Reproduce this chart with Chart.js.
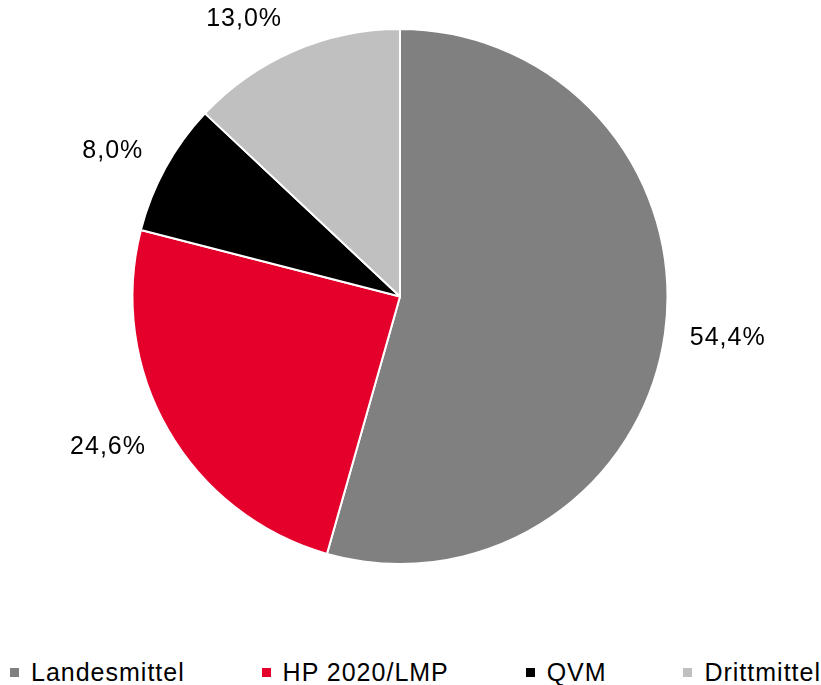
<!DOCTYPE html>
<html>
<head>
<meta charset="utf-8">
<script src="https://cdn.jsdelivr.net/npm/chart.js@4.4.1/dist/chart.umd.min.js"></script>
<style>
    body { margin: 0; background: #fff; width: 821px; height: 685px; overflow: hidden; position: relative; }
    #legend {
        position: absolute; left: 10px; right: 0; top: 658px;
        display: flex; justify-content: space-between;
        font-family: "Liberation Sans", Arial, sans-serif; font-size: 25px; letter-spacing: 1px; color: #000;
    }
    #legend .item { display: flex; align-items: center; white-space: nowrap; }
    #legend .box { width: 9px; height: 9px; margin-right: 12px; }
</style>
</head>
<body>
<canvas id="pieChart" width="821" height="600"></canvas>
<div id="legend"></div>
<script>
var categories = ['Landesmittel', 'HP 2020/LMP', 'QVM', 'Drittmittel'];
var shares = [54.4, 24.6, 8.0, 13.0];
var valueLabels = ['54,4%', '24,6%', '8,0%', '13,0%'];
var sliceColors = ['#808080', '#E4002B', '#000000', '#C0C0C0'];

// labels outside the pie, box placed off the end of each arc (excel style)
var outsideLabels = {
    id: 'outsideLabels',
    afterDatasetsDraw: function (chart) {
        var ctx = chart.ctx;
        var arcs = chart.getDatasetMeta(0).data;
        ctx.save();
        ctx.font = '25px "Liberation Sans", Arial, sans-serif';
        try { ctx.letterSpacing = '1px'; } catch (e) {}
        ctx.fillStyle = '#000';
        ctx.textAlign = 'center';
        ctx.textBaseline = 'middle';
        arcs.forEach(function (arc, i) {
            var p = arc.getProps(['x', 'y', 'startAngle', 'endAngle', 'outerRadius'], true);
            var mid = (p.startAngle + p.endAngle) / 2;
            var txt = valueLabels[i];
            var w = ctx.measureText(txt).width;
            var h = 25;
            var ax = p.x + Math.cos(mid) * (p.outerRadius + 22);
            var ay = p.y + Math.sin(mid) * (p.outerRadius + 22);
            var cx = ax + (Math.cos(mid) >= 0 ? 1 : -1) * (w / 2 + 3);
            var cy = ay + Math.sin(mid) * h / 2;
            ctx.fillText(txt, cx, cy);
        });
        ctx.restore();
    }
};

var chart = new Chart(document.getElementById('pieChart'), {
    type: 'pie',
    data: {
        labels: categories,
        datasets: [{
            data: shares,
            backgroundColor: sliceColors,
            borderColor: '#ffffff',
            borderWidth: 2
        }]
    },
    options: {
        responsive: false,
        animation: false,
        devicePixelRatio: 1,
        layout: { padding: { top: 28, bottom: 35, left: 0, right: 21 } },
        plugins: {
            legend: { display: false },
            tooltip: { enabled: false }
        }
    },
    plugins: [outsideLabels]
});

// html legend from the same arrays
var legendDiv = document.getElementById('legend');
categories.forEach(function (name, i) {
    var item = document.createElement('div');
    item.className = 'item';
    var box = document.createElement('span');
    box.className = 'box';
    box.style.background = sliceColors[i];
    var label = document.createElement('span');
    label.textContent = name;
    item.appendChild(box);
    item.appendChild(label);
    legendDiv.appendChild(item);
});
</script>
</body>
</html>
